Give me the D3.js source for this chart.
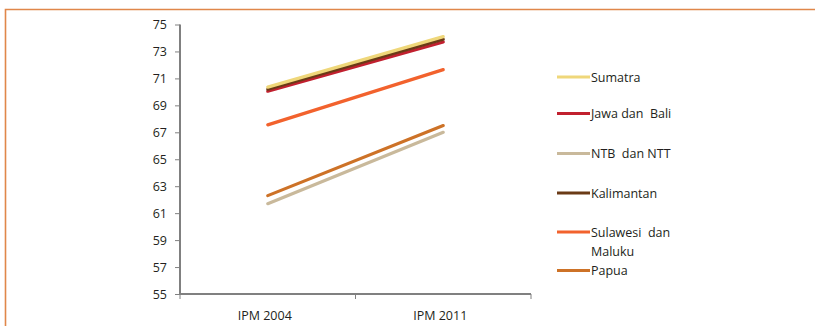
<!DOCTYPE html>
<html><head><meta charset="utf-8">
<script src="https://cdn.jsdelivr.net/npm/d3@7"></script>
<style>
body{margin:0;background:#fff;}
svg text{font-family:"Open Sans","Noto Sans",sans-serif;fill:#231f20;}
</style></head>
<body><svg id="c" width="815" height="326"></svg>
<script>
const categories = ["IPM 2004", "IPM 2011"];
const seriesNames = ["Sumatra", "Jawa dan  Bali", "NTB  dan NTT", "Kalimantan", "Sulawesi  dan Maluku", "Papua"];
const sumatra = [70.35, 74.1];
const jawaBali = [70.05, 73.7];
const ntbNtt = [61.7, 67.0];
const kalimantan = [70.2, 73.9];
const sulawesiMaluku = [67.55, 71.65];
const papua = [62.3, 67.5];
const yTicks = [55, 57, 59, 61, 63, 65, 67, 69, 71, 73, 75];
const colors = ["#efd77a", "#c1202f", "#c9b99b", "#6a3a16", "#f2622d", "#cd7227"];
const legendLines = [["Sumatra"], ["Jawa dan  Bali"], ["NTB  dan NTT"], ["Kalimantan"], ["Sulawesi  dan", "Maluku"], ["Papua"]];

const series = [sumatra, jawaBali, ntbNtt, kalimantan, sulawesiMaluku, papua];
const drawOrder = [2, 5, 4, 1, 3, 0];

const svg = d3.select("#c");
svg.append("path").attr("d", "M5.5,326 V9.5 H815").attr("fill", "none").attr("stroke", "#e0874a").attr("stroke-width", 1.6);

const x0 = 180, yTop = 24.5, yBot = 294;
const xBand = d3.scaleBand().domain(categories).range([x0, x0 + 351]);
const y = d3.scaleLinear().domain([55, 75]).range([yBot, yTop]);

const gy = svg.append("g").attr("transform", `translate(${x0},0)`)
  .call(d3.axisLeft(y).tickValues(yTicks).tickSize(5).tickPadding(8).tickFormat(d3.format("d")));
gy.select(".domain").attr("stroke", "#808080").attr("stroke-width", 2).attr("d", `M0,${yTop}V${yBot}`);
gy.selectAll(".tick line").attr("stroke", "#808080").attr("stroke-width", 1);
gy.selectAll(".tick text").attr("font-size", 12.5).attr("fill", "#231f20");

const gx = svg.append("g").attr("transform", `translate(0,${yBot})`)
  .call(d3.axisBottom(xBand).tickSize(0).tickPadding(17));
gx.select(".domain").attr("stroke", "#808080").attr("stroke-width", 2).attr("d", `M${x0},0H${x0 + 351}`);
gx.selectAll(".tick text").attr("font-size", 12.5).attr("fill", "#231f20").attr("dx", -3);
svg.append("g").selectAll("line").data([0, 1, 2]).join("line")
  .attr("x1", i => x0 + i * 175.5).attr("x2", i => x0 + i * 175.5)
  .attr("y1", yBot).attr("y2", yBot + 5).attr("stroke", "#808080").attr("stroke-width", 1);

const line = d3.line().x((d, i) => xBand(categories[i]) + xBand.bandwidth() / 2).y(d => y(d));
svg.append("g").selectAll("path").data(drawOrder).join("path")
  .attr("d", i => line(series[i])).attr("fill", "none")
  .attr("stroke", i => colors[i]).attr("stroke-width", 3.2).attr("stroke-linecap", "round");

const legendY = [77, 113.5, 153.5, 193, 232, 270.5];
const lg = svg.append("g");
seriesNames.forEach((n, i) => {
  lg.append("line").attr("x1", 557).attr("x2", 590).attr("y1", legendY[i]).attr("y2", legendY[i])
    .attr("stroke", colors[i]).attr("stroke-width", 3);
  const t = lg.append("text").attr("x", 591).attr("y", legendY[i] + 4.5).attr("font-size", 12.5).attr("xml:space", "preserve");
  legendLines[i].forEach((s, k) => t.append("tspan").attr("x", 591).attr("dy", k === 0 ? 0 : 19.5).text(s));
});
</script></body></html>
